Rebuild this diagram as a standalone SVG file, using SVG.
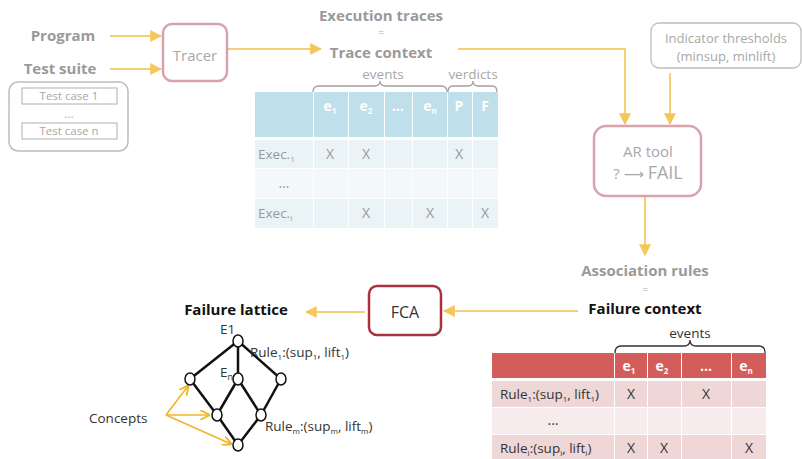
<svg xmlns="http://www.w3.org/2000/svg" width="802" height="459" viewBox="0 0 802 459">
<defs>
<marker id="ah" viewBox="0 0 10 10" refX="9" refY="5" markerWidth="6" markerHeight="6" orient="auto"><path d="M0,0 L10,5 L0,10 z" fill="#f5c75a"/></marker>
<marker id="ah2" viewBox="0 0 10 10" refX="9" refY="5" markerWidth="6" markerHeight="6" orient="auto"><path d="M0,0 L10,5 L0,10" fill="none" stroke="#f0b52a" stroke-width="2"/></marker>
<style>
text{font-family:"Open Sans","Liberation Sans",sans-serif}
.lbl{font-weight:bold;fill:#9a9a9a;font-size:15px}
.blk{font-weight:bold;fill:#111;font-size:15px}
.g{fill:#a8a8a8}
.conn{stroke:#f5cf78;stroke-width:2;fill:none;marker-end:url(#ah)}
.brace{fill:none;stroke:#a0a0a0;stroke-width:1.3}
.th{fill:#fff;font-weight:bold;font-size:14px;text-anchor:middle}
.tc{fill:#999;font-size:14px;text-anchor:middle}
.fc{fill:#333;font-size:14px;text-anchor:middle}
.edge{stroke:#111;stroke-width:2.5}
.nd{fill:#fff;stroke:#111;stroke-width:1.5}
</style>
</defs>
<rect width="802" height="459" fill="#fff"/>

<g id="connectors">
<line class="conn" x1="110" y1="36" x2="161" y2="36"/>
<line class="conn" x1="110" y1="69" x2="161" y2="69"/>
<line class="conn" x1="228" y1="49" x2="321" y2="49"/>
<polyline class="conn" points="458,49 625,49 625,124"/>
<line class="conn" x1="670" y1="73" x2="670" y2="124"/>
<line class="conn" x1="645" y1="197" x2="645" y2="255"/>
<line class="conn" x1="578" y1="311" x2="444" y2="311"/>
<line class="conn" x1="365" y1="312" x2="306" y2="312"/>
<g stroke="#f0b52a" stroke-width="1.6" fill="none" marker-end="url(#ah2)">
<line x1="166" y1="415" x2="188" y2="386"/>
<line x1="166" y1="415" x2="209" y2="415"/>
<line x1="166" y1="415" x2="231" y2="444"/>
</g>
</g>

<g id="program"><text class="lbl" x="63" y="41" text-anchor="middle">Program</text></g>
<g id="testsuite">
<text class="lbl" x="60" y="74" text-anchor="middle">Test suite</text>
<rect x="9" y="82" width="119" height="69" rx="9" fill="none" stroke="#bdbdbd" stroke-width="1.5"/>
<rect x="22" y="88" width="95" height="16" fill="none" stroke="#bdbdbd" stroke-width="1.2"/>
<text x="69" y="100" font-size="11.5" class="g" text-anchor="middle">Test case 1</text>
<text x="69" y="118" font-size="11.5" class="g" text-anchor="middle">...</text>
<rect x="22" y="123" width="95" height="16" fill="none" stroke="#bdbdbd" stroke-width="1.2"/>
<text x="69" y="135" font-size="11.5" class="g" text-anchor="middle">Test case n</text>
</g>

<g id="tracer">
<rect x="163" y="24" width="64" height="57" rx="9" fill="#fff" stroke="#d9a3ab" stroke-width="2.5"/>
<text x="195" y="61" font-size="15" class="g" text-anchor="middle">Tracer</text>
</g>

<g id="tracecontext">
<text class="lbl" x="381" y="21" text-anchor="middle">Execution traces</text>
<text x="381" y="36" font-size="10" class="g" text-anchor="middle">=</text>
<text class="lbl" x="381" y="58" text-anchor="middle">Trace context</text>
<text x="383" y="79" font-size="13.5" class="g" text-anchor="middle">events</text>
<text x="473" y="79" font-size="13.5" class="g" text-anchor="middle">verdicts</text>
<path class="brace" d="M313,92 Q313,86 319,86 L374,86 Q380,86 380,81 Q380,86 386,86 L441,86 Q447,86 447,92"/>
<path class="brace" d="M448,92 Q448,86 453,86 L468,86 Q473,86 473,81 Q473,86 478,86 L492,86 Q497,86 497,92"/>
<g fill="#bfe0ea">
<rect x="255" y="92" width="58" height="45"/><rect x="314" y="92" width="34" height="45"/><rect x="349" y="92" width="35" height="45"/><rect x="385" y="92" width="27" height="45"/><rect x="413" y="92" width="34" height="45"/><rect x="448" y="92" width="24" height="45"/><rect x="473" y="92" width="25" height="45"/>
</g>
<g fill="#eaf4f7">
<rect x="255" y="140" width="58" height="28"/><rect x="314" y="140" width="34" height="28"/><rect x="349" y="140" width="35" height="28"/><rect x="385" y="140" width="27" height="28"/><rect x="413" y="140" width="34" height="28"/><rect x="448" y="140" width="24" height="28"/><rect x="473" y="140" width="25" height="28"/>
<rect x="255" y="199" width="58" height="29"/><rect x="314" y="199" width="34" height="29"/><rect x="349" y="199" width="35" height="29"/><rect x="385" y="199" width="27" height="29"/><rect x="413" y="199" width="34" height="29"/><rect x="448" y="199" width="24" height="29"/><rect x="473" y="199" width="25" height="29"/>
</g>
<g fill="#f3f8fa">
<rect x="255" y="169" width="58" height="29"/><rect x="314" y="169" width="34" height="29"/><rect x="349" y="169" width="35" height="29"/><rect x="385" y="169" width="27" height="29"/><rect x="413" y="169" width="34" height="29"/><rect x="448" y="169" width="24" height="29"/><rect x="473" y="169" width="25" height="29"/>
</g>
<text class="th" x="330" y="111">e<tspan font-size="8" dy="3">1</tspan></text>
<text class="th" x="366" y="111">e<tspan font-size="8" dy="3">2</tspan></text>
<text class="th" x="398" y="111">...</text>
<text class="th" x="430" y="111">e<tspan font-size="8" dy="3">n</tspan></text>
<text class="th" x="459" y="111">P</text>
<text class="th" x="485" y="111">F</text>
<text x="258" y="159" font-size="13.5" fill="#999">Exec.<tspan font-size="8" dy="3">1</tspan></text>
<text class="tc" x="330" y="159">X</text><text class="tc" x="366" y="159">X</text><text class="tc" x="459" y="159">X</text>
<text class="tc" x="284" y="188">...</text>
<text x="258" y="218" font-size="13.5" fill="#999">Exec.<tspan font-size="8" dy="3">i</tspan></text>
<text class="tc" x="366" y="218">X</text><text class="tc" x="430" y="218">X</text><text class="tc" x="485" y="218">X</text>
</g>

<g id="thresholds">
<rect x="651" y="23" width="150" height="45" rx="8" fill="none" stroke="#bdbdbd" stroke-width="1.3"/>
<text x="726" y="43" font-size="13" class="g" text-anchor="middle">Indicator thresholds</text>
<text x="726" y="61" font-size="13" class="g" text-anchor="middle">(minsup, minlift)</text>
</g>

<g id="artool">
<rect x="594" y="126" width="107" height="70" rx="12" fill="#fff" stroke="#d9a3ab" stroke-width="2.5"/>
<text x="648" y="157" font-size="15" class="g" text-anchor="middle">AR tool</text>
<text x="648" y="179" font-size="15" class="g" text-anchor="middle">? <tspan font-family="DejaVu Sans" font-size="14">⟶</tspan> <tspan font-size="18">FAIL</tspan></text>
</g>

<g id="failurecontext">
<text class="lbl" x="645" y="276" text-anchor="middle">Association rules</text>
<text x="645" y="293" font-size="10" class="g" text-anchor="middle">=</text>
<text class="blk" x="645" y="314" text-anchor="middle">Failure context</text>
<text x="690" y="338" font-size="13.5" fill="#333" text-anchor="middle">events</text>
<path class="brace" d="M615,353 Q615,346 621,346 L684,346 Q690,346 690,340 Q690,346 696,346 L759,346 Q765,346 765,353" style="stroke:#333"/>
<g fill="#d35d5b">
<rect x="492" y="353" width="122" height="25"/><rect x="615" y="353" width="32" height="25"/><rect x="648" y="353" width="33" height="25"/><rect x="682" y="353" width="49" height="25"/><rect x="732" y="353" width="34" height="25"/>
</g>
<g fill="#efd7d8">
<rect x="492" y="381" width="122" height="26"/><rect x="615" y="381" width="32" height="26"/><rect x="648" y="381" width="33" height="26"/><rect x="682" y="381" width="49" height="26"/><rect x="732" y="381" width="34" height="26"/>
<rect x="492" y="435" width="122" height="26"/><rect x="615" y="435" width="32" height="26"/><rect x="648" y="435" width="33" height="26"/><rect x="682" y="435" width="49" height="26"/><rect x="732" y="435" width="34" height="26"/>
</g>
<g fill="#f7eced">
<rect x="492" y="408" width="122" height="26"/><rect x="615" y="408" width="32" height="26"/><rect x="648" y="408" width="33" height="26"/><rect x="682" y="408" width="49" height="26"/><rect x="732" y="408" width="34" height="26"/>
</g>
<text class="th" x="629" y="371">e<tspan font-size="8" dy="3">1</tspan></text>
<text class="th" x="662" y="371">e<tspan font-size="8" dy="3">2</tspan></text>
<text class="th" x="706" y="371">...</text>
<text class="th" x="746" y="371">e<tspan font-size="8" dy="3">n</tspan></text>
<text x="500" y="399" font-size="13.5" fill="#333">Rule<tspan font-size="8" dy="3">1</tspan><tspan dy="-3">:(sup</tspan><tspan font-size="8" dy="3">1</tspan><tspan dy="-3">, lift</tspan><tspan font-size="8" dy="3">1</tspan><tspan dy="-3">)</tspan></text>
<text class="fc" x="631" y="399">X</text><text class="fc" x="706" y="399">X</text>
<text class="fc" x="553" y="425">...</text>
<text x="500" y="453" font-size="13.5" fill="#333">Rule<tspan font-size="8" dy="3">i</tspan><tspan dy="-3">:(sup</tspan><tspan font-size="8" dy="3">i</tspan><tspan dy="-3">, lift</tspan><tspan font-size="8" dy="3">i</tspan><tspan dy="-3">)</tspan></text>
<text class="fc" x="631" y="453">X</text><text class="fc" x="664" y="453">X</text><text class="fc" x="749" y="453">X</text>
</g>

<g id="fca">
<rect x="369" y="286" width="72" height="49" rx="8" fill="#fff" stroke="#a8323e" stroke-width="2.5"/>
<text x="405" y="318" font-size="16" fill="#333" text-anchor="middle">FCA</text>
</g>

<g id="lattice">
<text class="blk" x="236" y="315" text-anchor="middle">Failure lattice</text>
<line class="edge" x1="238" y1="341" x2="190" y2="379"/>
<line class="edge" x1="238" y1="341" x2="238" y2="379"/>
<line class="edge" x1="238" y1="341" x2="281" y2="379"/>
<line class="edge" x1="190" y1="379" x2="217" y2="415"/>
<line class="edge" x1="238" y1="379" x2="217" y2="415"/>
<line class="edge" x1="238" y1="379" x2="261" y2="415"/>
<line class="edge" x1="281" y1="379" x2="261" y2="415"/>
<line class="edge" x1="217" y1="415" x2="238" y2="445"/>
<line class="edge" x1="261" y1="415" x2="238" y2="445"/>
<ellipse class="nd" cx="238" cy="341" rx="5" ry="6"/>
<ellipse class="nd" cx="190" cy="379" rx="5" ry="6"/>
<ellipse class="nd" cx="238" cy="379" rx="5" ry="6"/>
<ellipse class="nd" cx="281" cy="379" rx="5" ry="6"/>
<ellipse class="nd" cx="217" cy="415" rx="5" ry="6"/>
<ellipse class="nd" cx="261" cy="415" rx="5" ry="6"/>
<ellipse class="nd" cx="238" cy="445" rx="5" ry="6"/>
<text x="220" y="334" font-size="13.5" fill="#333">E1</text>
<text x="220" y="377" font-size="13.5" fill="#333">E<tspan font-size="9" dy="3">n</tspan></text>
<text x="250" y="357" font-size="13.5" fill="#333">Rule<tspan font-size="8" dy="3">1</tspan><tspan dy="-3">:(sup</tspan><tspan font-size="8" dy="3">1</tspan><tspan dy="-3">, lift</tspan><tspan font-size="8" dy="3">1</tspan><tspan dy="-3">)</tspan></text>
<text x="265" y="431" font-size="13.5" fill="#333">Rule<tspan font-size="8" dy="3">m</tspan><tspan dy="-3">:(sup</tspan><tspan font-size="8" dy="3">m</tspan><tspan dy="-3">, lift</tspan><tspan font-size="8" dy="3">m</tspan><tspan dy="-3">)</tspan></text>
<text x="89" y="423" font-size="13.5" fill="#333">Concepts</text>
</g>
</svg>
